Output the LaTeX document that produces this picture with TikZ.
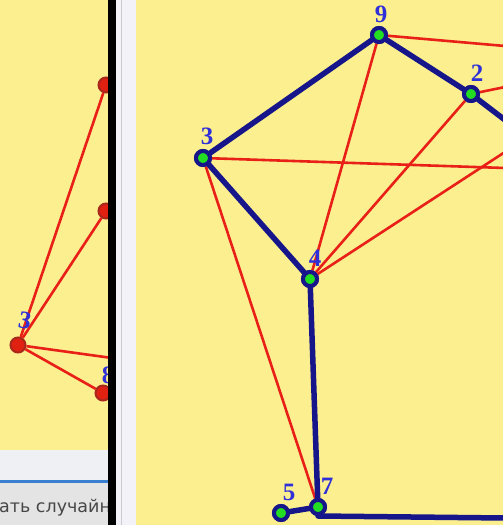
\documentclass[tikz,border=0pt]{standalone}
\usepackage{fontspec}
\setmainfont{Liberation Serif}
\newfontfamily\uifont{DejaVu Sans}
\definecolor{bgyel}{HTML}{FCEF8F}
\definecolor{navyedge}{HTML}{16168A}
\definecolor{redline}{HTML}{E82018}
\definecolor{vgreen}{HTML}{22DD22}
\definecolor{lblblue}{HTML}{3030D8}
\definecolor{rdark}{HTML}{A8281C}
\definecolor{rfill}{HTML}{E02010}
\definecolor{bandgray}{HTML}{EEF0F4}
\definecolor{barblue}{HTML}{3A80D0}
\definecolor{botgray}{HTML}{E4E4E4}
\definecolor{stripc}{HTML}{F2F2F8}
\begin{document}
\begin{tikzpicture}[x=1pt,y=-1pt,
  vtx/.style={circle,draw=navyedge,line width=4pt,fill=vgreen,inner sep=0pt,minimum size=14pt},
  rvtx/.style={circle,draw=rdark,line width=2pt,fill=rfill,inner sep=0pt,minimum size=15pt},
  lbl/.style={text=lblblue,font=\bfseries\fontsize{25}{25}\selectfont,inner sep=0pt},
  bedge/.style={draw=navyedge,line width=5.5pt,line cap=round},
  redge/.style={draw=redline,line width=2.6pt}]
\useasboundingbox (0,0) rectangle (503,525);
% backgrounds
\fill[bgyel] (0,0) rectangle (108,450);
\fill[bandgray] (0,450) rectangle (108,480);
\fill[barblue] (0,480) rectangle (108,483);
\fill[botgray] (0,483) rectangle (108,525);
\fill[stripc] (116,0) rectangle (136,525);
\draw[gray!40,line width=1pt] (121,0) -- (121,525);
\fill[bgyel] (136,0) rectangle (503,525);
% bottom text
\begin{scope}
\clip (0,483) rectangle (108,525);
\node[anchor=base west,inner sep=0pt,text=black!72,font=\uifont\fontsize{17.5}{18}\selectfont] (txt) at (-1,512) {ать случайн};
\end{scope}
% left panel
\node[rvtx] (la) at (106,85) {};
\node[rvtx] (lb) at (106,211) {};
\node[rvtx] (l3) at (18,345) {};
\node[rvtx] (l8) at (103,393) {};
\coordinate (lr) at (112,358);
\draw[redge] (l3) -- (la);
\draw[redge] (l3) -- (lb);
\draw[redge] (l3) -- (lr);
\draw[redge] (l3) -- (l8);
\node[lbl,rotate=-10] (l3t) at (25,321) {3};
\node[lbl] (l8t) at (108,375) {8};
% right panel nodes
\node[vtx] (n9) at (379,35) {};
\node[vtx] (n2) at (471,94) {};
\node[vtx] (n3) at (203,158) {};
\node[vtx] (n4) at (310,279) {};
\node[vtx] (n5) at (281,513) {};
\node[vtx] (n7) at (318,507) {};
\coordinate (e9) at (505,46);
\coordinate (e2r) at (505,87);
\coordinate (e3) at (505,168);
\coordinate (e4) at (505,152);
\coordinate (e2b) at (505,120);
\coordinate (e7) at (505,518);
% red lines
\draw[redge] (n9) -- (e9);
\draw[redge] (n2) -- (e2r);
\draw[redge] (n3) -- (e3);
\draw[redge] (n4) -- (e4);
\draw[redge] (n9) -- (n4);
\draw[redge] (n2) -- (n4);
\draw[redge] (n3) -- (n7);
% blue edges
\draw[bedge] (n3) -- (n9);
\draw[bedge] (n9) -- (n2);
\draw[bedge] (n2) -- (e2b);
\draw[bedge] (n3) -- (n4);
\draw[bedge] (n4) -- (n7);
\draw[bedge] (n5) -- (n7);
\draw[bedge] (n7.south) -- (e7);
% redraw nodes on top
\foreach \p in {{379,35},{471,94},{203,158},{310,279},{281,513},{318,507}}
  \node[vtx] at (\p) {};
% labels
\node[lbl] (t9) at (381,14) {9};
\node[lbl] (t2) at (477,73) {2};
\node[lbl] (t3) at (207,136) {3};
\node[lbl] (t4) at (315,258) {4};
\node[lbl] (t5) at (289,492) {5};
\node[lbl] (t7) at (327,486) {7};
% black divider
\fill[black] (108,0) rectangle (116,525);
\end{tikzpicture}
\end{document}
